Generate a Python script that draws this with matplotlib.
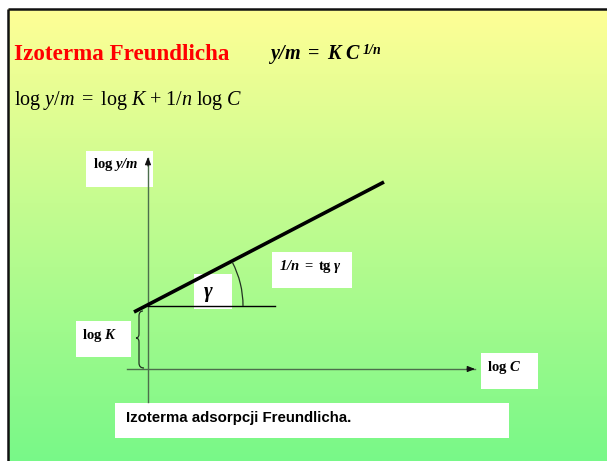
import numpy as np
import matplotlib
matplotlib.use("Agg")
import matplotlib.pyplot as plt
from matplotlib.patches import Rectangle, Arc
from matplotlib.path import Path
from matplotlib.patches import PathPatch

plt.rcParams['mathtext.fontset'] = 'custom'
plt.rcParams['mathtext.rm'] = 'Liberation Serif'
plt.rcParams['mathtext.it'] = 'Liberation Serif:italic'
plt.rcParams['mathtext.bf'] = 'Liberation Serif:bold'
plt.rcParams['mathtext.bfit'] = 'Liberation Serif:italic:bold'

# ---- diagram data (slide pixel coordinates) ----
title_text = "Izoterma Freundlicha"
formula_main = r"$\mathbfit{y/m}\ \mathbf{{=}}\ \mathbfit{K\ C}$"
formula_exp = r"$\mathbfit{1/n}$"
log_eq = r"$\mathrm{log}\ y/m\ {=}\ \mathrm{log}\ K\ {+}\ 1/n\ \mathrm{log}\ C$"
caption_text = "Izoterma adsorpcji Freundlicha."

isotherm_x = [134, 384]          # log C positions of thick line ends
isotherm_y = [312, 182]          # log y/m positions
ref_line_x = [148, 275]          # horizontal reference line
ref_line_y = [306, 306]
yaxis_x = [148, 148]
yaxis_y = [402, 158]
xaxis_x = [127, 475]
xaxis_y = [369, 369]
angle_deg = 27.5
arc_radius = 95

boxes = {
    "ylab":   (86, 151, 67, 36),
    "logK":   (76, 321, 55, 36),
    "gamma":  (194, 274, 38, 35),
    "slope":  (272, 252, 80, 36),
    "logC":   (481, 353, 57, 36),
    "caption": (115, 403, 394, 35),
}

W, H = 607, 461
fig = plt.figure(figsize=(W / 100, H / 100), dpi=100)
ax = fig.add_axes([0, 0, 1, 1])
ax.set_xlim(0, W)
ax.set_ylim(H, 0)
ax.axis('off')

# background gradient
top = np.array([255, 255, 150]) / 255
bot = np.array([120, 248, 136]) / 255
t = np.linspace(0, 1, 256)[:, None]
grad = (top[None, :] * (1 - t) + bot[None, :] * t)[:, None, :]
ax.imshow(grad, extent=(8, W, H, 9.5), aspect='auto', zorder=0)

# slide border (left and top)
ax.plot([8, 8], [H, 9.5], color='#111111', lw=1.8, zorder=5, solid_capstyle='butt')
ax.plot([8, W], [9.5, 9.5], color='#111111', lw=1.8, zorder=5, solid_capstyle='butt')

# title and formulas
ax.text(14, 59.5, title_text, color='#ff0000', fontsize=16.6, fontweight='bold',
        family='Liberation Serif', va='baseline', ha='left')
t2 = ax.text(268, 59, formula_main, fontsize=14.5, va='baseline', ha='left')
ax.annotate(formula_exp, xy=(1, 1), xycoords=t2, xytext=(0.5, 0), textcoords='offset points',
            fontsize=10, va='top', ha='left')
ax.text(14, 105, log_eq, fontsize=14.5, va='baseline', ha='left')

# white label boxes
for key, (x, y, w, h) in boxes.items():
    ax.add_patch(Rectangle((x, y), w, h, facecolor='white', edgecolor='none', zorder=2))

# axes
ax.plot(yaxis_x, yaxis_y, color='#4c6e4c', lw=1.0, zorder=3)
ax.plot(xaxis_x, xaxis_y, color='#4c6e4c', lw=1.0, zorder=3)
ax.annotate('', xy=(yaxis_x[1], yaxis_y[1] - 1), xytext=(yaxis_x[1], yaxis_y[1] + 8),
            arrowprops=dict(arrowstyle='-|>,head_length=0.45,head_width=0.18', color='#111111',
                            lw=0.8, shrinkA=0, shrinkB=0), zorder=3)
ax.annotate('', xy=(xaxis_x[1], xaxis_y[1]), xytext=(xaxis_x[1] - 8, xaxis_y[1]),
            arrowprops=dict(arrowstyle='-|>,head_length=0.45,head_width=0.18', color='#111111',
                            lw=0.8, shrinkA=0, shrinkB=0), zorder=3)

# isotherm line and reference line
ax.plot(isotherm_x, isotherm_y, color='black', lw=2.6, zorder=4, solid_capstyle='butt')
ax.plot(ref_line_x, ref_line_y, color='black', lw=1.0, zorder=4)

# angle arc
ax.add_patch(Arc((148, 306), 2 * arc_radius, 2 * arc_radius, angle=0,
                 theta1=-angle_deg, theta2=0, color='#223322', lw=0.9, zorder=4))

# brace for log K
bx = 139
verts = [(bx + 4, 311), (bx, 311), (bx, 316),
         (bx, 334), (bx, 338), (bx - 3, 338),
         (bx, 338), (bx, 342),
         (bx, 363), (bx, 368), (bx + 5, 368)]
codes = [Path.MOVETO, Path.CURVE3, Path.CURVE3,
         Path.LINETO, Path.CURVE3, Path.CURVE3,
         Path.CURVE3, Path.CURVE3,
         Path.LINETO, Path.CURVE3, Path.CURVE3]
ax.add_patch(PathPatch(Path(verts, codes), facecolor='none', edgecolor='#223322', lw=0.9, zorder=4))

# labels
ax.text(93, 168, r"$\mathbf{log}\ \mathbfit{y/m}$", fontsize=10.5, va='baseline', ha='left', zorder=6)
ax.text(82, 339, r"$\mathbf{log}\ \mathbfit{K}$", fontsize=10.5, va='baseline', ha='left', zorder=6)
ax.text(203, 297, r"$\mathbfit{γ}$", fontsize=15, va='baseline', ha='left', zorder=6)
ax.text(279, 270, r"$\mathbfit{1/n}\ \mathbf{{=}\ tg}\ \mathbfit{γ}$", fontsize=10.5, va='baseline',
        ha='left', zorder=6)
ax.text(487, 371, r"$\mathbf{log}\ \mathbfit{C}$", fontsize=10.5, va='baseline', ha='left', zorder=6)
ax.text(126, 421.5, caption_text, fontsize=10.8, fontweight='bold', family='Liberation Sans',
        va='baseline', ha='left', zorder=6)

fig.savefig('out.png', dpi=100)
